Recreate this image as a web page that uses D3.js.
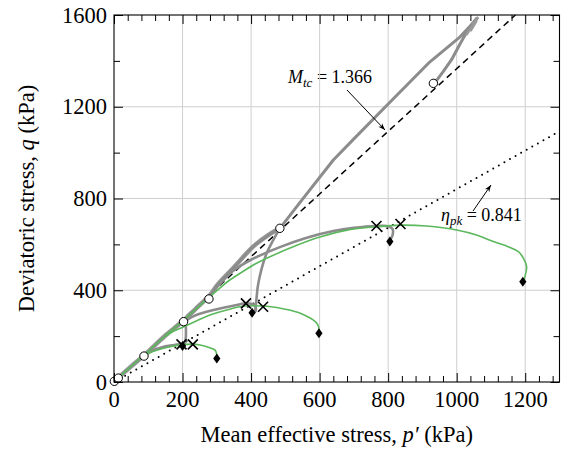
<!DOCTYPE html>
<html><head><meta charset="utf-8">
<script src="https://cdn.jsdelivr.net/npm/d3@7"></script>
</head><body style="margin:0">
<svg id="c" width="562" height="453"></svg>
<script>
// ---------- data ----------
const xTicks = [0, 200, 400, 600, 800, 1000, 1200];
const yTicks = [0, 400, 800, 1200, 1600];
const Mtc = 1.366;
const etaPk = 0.841;

// experiment (grey): base loading band
const grayBase = [[0,0],[12,17],[50,68],[87,115],[150,203],[203,268],[250,335],[280,378],[300,420],[350,500],[406,590],[450,640],[484,670]];
// grey upper loading / unloading
const grayTop = [[484,670],[548,793],[640,968],[700,1060],[800,1212],[922,1396],[1010,1505],[1040,1553],[1058,1585],[1050,1570],[1035,1540],[1010,1475],[985,1405],[960,1352],[942,1316],[932,1302]];
const grayTopFuzz = [[1028,1513],[1063,1590],[1045,1560],[1058,1575],[1040,1530]];
// grey undrained shear paths
const graySmall = [[87,113],[110,135],[140,152],[170,160],[197,165],[205,163],[203,157]];
const grayReload1 = [[203,157],[208,175],[210,220],[208,255],[203,263]];
const grayMid = [[203,263],[240,292],[290,314],[358,336],[385,343],[411,333],[414,315],[410,305]];
const grayReload2 = [[412,308],[415,350],[420,420],[430,490],[445,560],[465,620],[484,670]];
const grayLarge = [[277,362],[290,395],[320,445],[348,485],[400,533],[484,588],[560,628],[640,658],[700,672],[766,680],[800,679],[813,666],[813,641],[808,625]];

// simulation (green)
const greenSmall = [[0,0],[12,17],[50,68],[87,115],[120,136],[160,153],[200,163],[230,165],[251,161],[275,152],[295,139],[300,118],[300,105]];
const greenMid = [[87,115],[150,200],[175,222],[202,240],[240,266],[280,292],[329,314],[382,331],[435,331],[446,330],[504,316],[540,302],[562,287],[580,272],[592,256],[598,235],[598,215]];
const greenLarge = [[150,203],[203,270],[250,333],[280,372],[300,398],[330,436],[368,474],[416,518],[465,553],[530,594],[601,632],[680,662],[766,677],[836,684],[912,680],[1000,663],[1060,640],[1107,612],[1150,590],[1180,568],[1195,539],[1204,503],[1199,459],[1195,440]];

// markers
const circlePts = [[1,3],[12.5,17],[87.5,113],[203,263],[277,362],[484,670],[932,1302]];
const crossPts = [[197,164],[230,164],[385,343],[435,328],[766,680],[836,689]];
const diamondPts = [[200,157],[300,102],[403,302],[598,212],[805,612],[1193,437]];

// ---------- drawing ----------
const svg = d3.select("#c");
function ft(sel){ return sel.attr("font-family","Times New Roman").style("font-family",'"Liberation Serif"'); }
const x = d3.scaleLinear([0,1300],[114,559.5]);
const y = d3.scaleLinear([0,1600],[382,15]);
const [x0,x1] = x.range(), [y0,y1] = y.range();

// text layer first
const T = svg.append("g");
const fs = 22.5;
const xt = ft(T.append("text")).attr("x",(x0+x1)/2).attr("y",442).attr("text-anchor","middle").attr("font-size",fs);
xt.append("tspan").text("Mean effective stress, ");
xt.append("tspan").attr("font-style","italic").text("p′");
xt.append("tspan").text(" (kPa)");
const yt = ft(T.append("text")).attr("transform",`translate(33.5,${(y0+y1)/2}) rotate(-90)`).attr("text-anchor","middle").attr("font-size",fs);
yt.append("tspan").text("Deviatoric stress, ");
yt.append("tspan").attr("font-style","italic").text("q");
yt.append("tspan").text(" (kPa)");
const afs = 18;
const a1 = ft(T.append("text")).attr("x",288).attr("y",83).attr("font-size",afs);
a1.append("tspan").attr("font-style","italic").text("M");
a1.append("tspan").attr("font-style","italic").attr("font-size",13).attr("dy",4).text("tc");
a1.append("tspan").attr("dy",-4).text(" = " + Mtc.toFixed(3));
const a2 = ft(T.append("text")).attr("x",441).attr("y",221).attr("font-size",afs);
a2.append("tspan").attr("font-style","italic").text("η");
a2.append("tspan").attr("font-style","italic").attr("font-size",13).attr("dy",4).text("pk");
a2.append("tspan").attr("dy",-4).text(" = " + etaPk.toFixed(3));
ft(T.selectAll("text.xl").data(xTicks).join("text")).attr("x",d=>x(d)).attr("y",407).attr("text-anchor","middle").attr("font-size",fs).text(d=>d);
ft(T.selectAll("text.yl").data(yTicks).join("text")).attr("x",107).attr("y",d=>y(d)+7.6).attr("text-anchor","end").attr("font-size",fs).text(d=>d);

// grid
const grid = svg.append("g");
grid.selectAll("line.v").data(xTicks.filter(d=>d>0)).join("line")
  .attr("x1",d=>x(d)).attr("x2",d=>x(d)).attr("y1",y0).attr("y2",y1)
  .attr("stroke","#cfcfcf").attr("stroke-width",1);
grid.selectAll("line.h").data(yTicks.filter(d=>d>0&&d<1600)).join("line")
  .attr("y1",d=>y(d)).attr("y2",d=>y(d)).attr("x1",x0).attr("x2",x1)
  .attr("stroke","#cfcfcf").attr("stroke-width",1);

const plot = svg.append("g");
plot.append("line").attr("x1",x(0)).attr("y1",y(0)).attr("x2",x(1600/Mtc)).attr("y2",y(1600))
  .attr("stroke","#000").attr("stroke-width",1.5).attr("stroke-dasharray","6.5,4.5");
plot.append("line").attr("x1",x(0)).attr("y1",y(0)).attr("x2",x(1300)).attr("y2",y(1300*etaPk))
  .attr("stroke","#000").attr("stroke-width",2).attr("stroke-linecap","round").attr("stroke-dasharray","0,6.4");

const line = d3.line().x(d=>x(d[0])).y(d=>y(d[1])).curve(d3.curveCatmullRom.alpha(0.5));
const lineLin = d3.line().x(d=>x(d[0])).y(d=>y(d[1]));
const grayC = "#8c8c8c";
plot.append("path").attr("d",line(grayBase)).attr("fill","none").attr("stroke","#999").attr("stroke-width",4.5).attr("stroke-linejoin","round");
plot.append("path").attr("d",line(grayBase)).attr("fill","none").attr("stroke",grayC).attr("stroke-width",2.5);
plot.append("path").attr("d",lineLin(grayTop)).attr("fill","none").attr("stroke",grayC).attr("stroke-width",3).attr("stroke-linejoin","round");
plot.append("path").attr("d",lineLin(grayTopFuzz)).attr("fill","none").attr("stroke","#999").attr("stroke-width",2.5);
[graySmall, grayReload1, grayMid, grayReload2, grayLarge].forEach(s=>{
  plot.append("path").attr("d",line(s)).attr("fill","none").attr("stroke",grayC).attr("stroke-width",2.6).attr("stroke-linecap","round");
});
const greenC = "#5cb85c";
[greenSmall, greenMid, greenLarge].forEach(s=>{
  plot.append("path").attr("d",line(s)).attr("fill","none").attr("stroke",greenC).attr("stroke-width",1.6);
});

// markers
const mk = svg.append("g");
mk.selectAll("path.d").data(diamondPts).join("path")
  .attr("d","M0,-5 L3.6,0 L0,5 L-3.6,0 Z")
  .attr("transform",d=>`translate(${x(d[0])},${y(d[1])})`).attr("fill","#000");
mk.selectAll("path.x").data(crossPts).join("path")
  .attr("d","M-5,-5 L5,5 M-5,5 L5,-5")
  .attr("transform",d=>`translate(${x(d[0])},${y(d[1])})`).attr("stroke","#000").attr("stroke-width",1.6).attr("fill","none");
mk.selectAll("circle").data(circlePts).join("circle")
  .attr("cx",d=>x(d[0])).attr("cy",d=>y(d[1])).attr("r",4.2)
  .attr("fill","#fff").attr("stroke","#000").attr("stroke-width",1);

// axis ticks (labels drawn above in the text layer)
function styleAxis(g){
  g.select(".domain").remove();
  g.selectAll("text").remove();
  g.selectAll("line").attr("stroke","#000").attr("stroke-width",1);
}
const minorX = d3.range(0,1301,40).filter(v=>v%200!==0);
const minorY = d3.range(0,1601,200).filter(v=>v%400!==0);
svg.append("g").attr("transform",`translate(0,${y0})`).call(d3.axisBottom(x).tickValues(xTicks).tickSizeInner(-9)).call(styleAxis);
svg.append("g").attr("transform",`translate(0,${y0})`).call(d3.axisBottom(x).tickValues(minorX).tickSizeInner(-6)).call(styleAxis);
svg.append("g").attr("transform",`translate(0,${y1})`).call(d3.axisTop(x).tickValues(xTicks).tickSizeInner(-9)).call(styleAxis);
svg.append("g").attr("transform",`translate(0,${y1})`).call(d3.axisTop(x).tickValues(minorX).tickSizeInner(-6)).call(styleAxis);
svg.append("g").attr("transform",`translate(${x0},0)`).call(d3.axisLeft(y).tickValues(yTicks).tickSizeInner(-9)).call(styleAxis);
svg.append("g").attr("transform",`translate(${x0},0)`).call(d3.axisLeft(y).tickValues(minorY).tickSizeInner(-6)).call(styleAxis);
svg.append("g").attr("transform",`translate(${x1},0)`).call(d3.axisRight(y).tickValues(yTicks).tickSizeInner(-9)).call(styleAxis);
svg.append("g").attr("transform",`translate(${x1},0)`).call(d3.axisRight(y).tickValues(minorY).tickSizeInner(-6)).call(styleAxis);
svg.append("rect").attr("x",x0).attr("y",y1).attr("width",x1-x0).attr("height",y0-y1)
  .attr("fill","none").attr("stroke","#000").attr("stroke-width",1.1);

// annotation arrows
function arrow(xa,ya,xb,yb){
  svg.append("line").attr("x1",xa).attr("y1",ya).attr("x2",xb).attr("y2",yb).attr("stroke","#000").attr("stroke-width",1);
  const a = Math.atan2(yb-ya, xb-xa), L = 7, W = 2.6;
  const bx = xb - L*Math.cos(a), by = yb - L*Math.sin(a);
  const nx = -Math.sin(a), ny = Math.cos(a);
  const mx = xb - 0.7*L*Math.cos(a), my = yb - 0.7*L*Math.sin(a);
  svg.append("path").attr("d",`M${xb},${yb} L${bx+W*nx},${by+W*ny} L${mx},${my} L${bx-W*nx},${by-W*ny} Z`).attr("fill","#000");
}
arrow(347,90,385,130);
arrow(473,211,491,185);
</script>
</body></html>
